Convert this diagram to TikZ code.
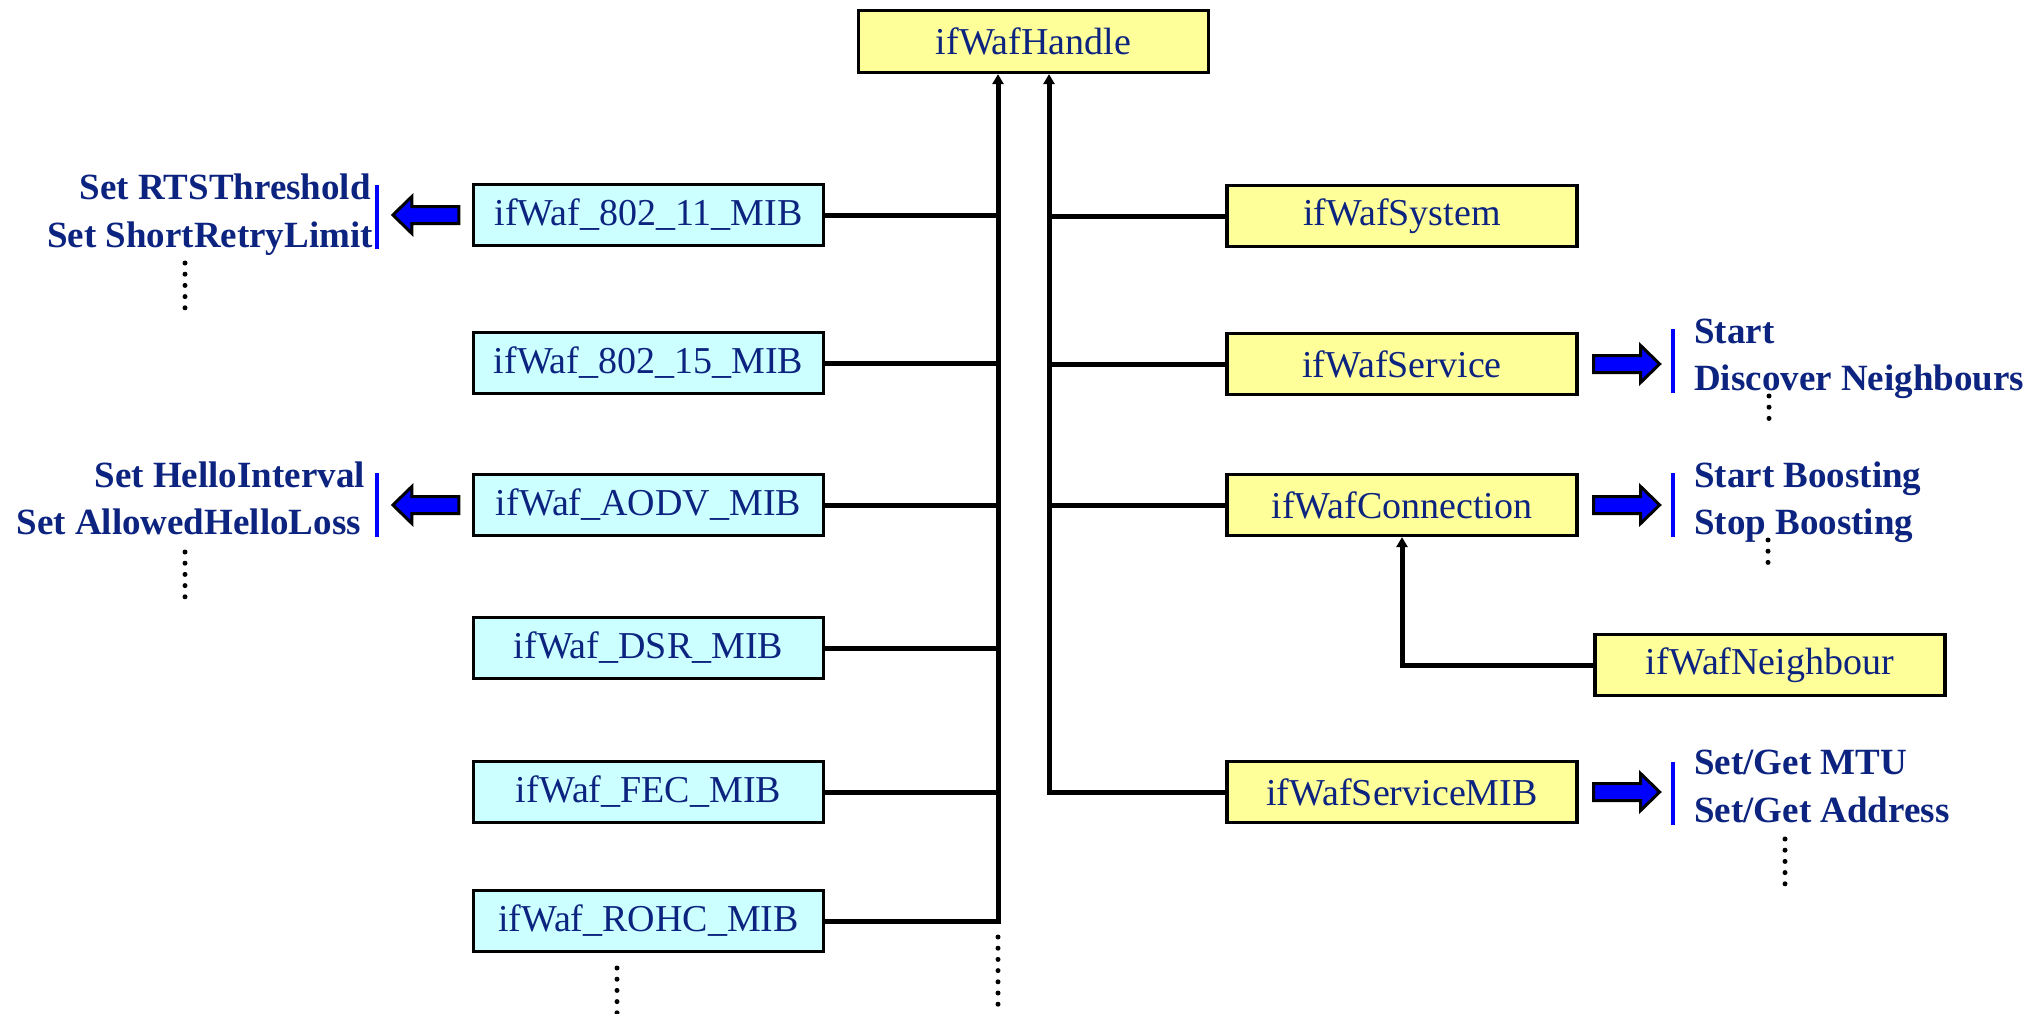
\documentclass[tikz,border=0pt]{standalone}
\usepackage{fontspec}
\setmainfont{Liberation Serif}
\usetikzlibrary{arrows.meta,calc}
\definecolor{navy}{RGB}{12,36,128}
\definecolor{cyanfill}{RGB}{204,255,255}
\definecolor{yellowfill}{RGB}{255,255,153}
\definecolor{arrowblue}{RGB}{0,0,255}

\begin{document}
\begin{tikzpicture}[x=1pt,y=-1pt,
  box/.style={draw=black,line width=3.2pt,minimum width=350pt,minimum height=61pt,
    inner sep=0pt,text=navy,font=\fontsize{38}{45}\selectfont},
  mib/.style={box,fill=cyanfill},
  obj/.style={box,fill=yellowfill},
  link/.style={line width=5pt},
  uplink/.style={link,-{Triangle[length=10pt,width=11pt]}},
  lbl/.style={inner sep=0pt,text=navy,font=\fontsize{37}{47}\selectfont\bfseries},
  bar/.style={draw=arrowblue,line width=3.6pt},
  dots/.style={line width=5pt,line cap=round,dash pattern=on 0pt off 11.2pt},
  pics/fatarrow/.style={code={
    \draw[line width=3pt,fill=arrowblue,line join=miter]
      (0,-8.5) -- (47,-8.5) -- (47,-18.5) -- (66,0) -- (47,18.5) -- (47,8.5) -- (0,8.5) -- cycle;}}
]
\useasboundingbox (0,0) rectangle (2034,1014);

% root object
\node[obj,minimum height=62pt] (handle) at (1033.5,41.5) {ifWafHandle};

% MIB objects (left column)
\node[mib] (m80211) at (648.5,215) {ifWaf\_802\_11\_MIB};
\node[mib] (m80215) at (648.5,363) {ifWaf\_802\_15\_MIB};
\node[mib] (maodv)  at (648.5,505) {ifWaf\_AODV\_MIB};
\node[mib] (mdsr)   at (648.5,648) {ifWaf\_DSR\_MIB};
\node[mib] (mfec)   at (648.5,792) {ifWaf\_FEC\_MIB};
\node[mib] (mrohc)  at (648.5,921) {ifWaf\_ROHC\_MIB};

% service objects (right column)
\node[obj] (osys)  at (1402,216) {ifWafSystem};
\node[obj] (osvc)  at (1402,364) {ifWafService};
\node[obj] (oconn) at (1402,505) {ifWafConnection};
\node[obj] (osmib) at (1402,792) {ifWafServiceMIB};
\node[obj] (onbr)  at (1770,665) {ifWafNeighbour};

% trunks
\coordinate (tL) at (998,921);
\coordinate (tR) at (1049,792);
\draw[uplink] (mrohc.east) -- (tL) -- (tL |- handle.south);
\foreach \n in {m80211,m80215,maodv,mdsr,mfec}
  \draw[link] (\n.east) -- ($(\n.east -| tL)+(2.5,0)$);
\draw[uplink] (osmib.west) -- (tR) -- (tR |- handle.south);
\foreach \n in {osys,osvc,oconn}
  \draw[link] (\n.west) -- (\n.west -| tR);
\draw[uplink] (onbr.west) -- (onbr.west -| oconn.south) -- (oconn.south);

% continuation marks
\draw[dots] (998,937) -- (998,1013);
\draw[dots] (617,968) -- (617,1013);

% operations of ifWaf_802_11_MIB
\pic[xscale=-1] at ($(m80211.west)+(-13,0)$) {fatarrow};
\draw[bar] (377,185) -- (377,249);
\node[lbl,anchor=base east] (l11a) at (371,199) {Set RTSThreshold};
\node[lbl,anchor=base east] (l11b) at (373,247) {Set ShortRetryLimit};
\draw[dots] (185,263) -- (185,309);

% operations of ifWaf_AODV_MIB
\pic[xscale=-1] at ($(maodv.west)+(-13,0)$) {fatarrow};
\draw[bar] (377,473) -- (377,537);
\node[lbl,anchor=base east] (laoa) at (365,487) {Set HelloInterval};
\node[lbl,anchor=base east] (laob) at (361,534) {Set AllowedHelloLoss};
\draw[dots] (185,552) -- (185,597);

% operations of ifWafService
\pic at ($(osvc.east)+(15,0)$) {fatarrow};
\draw[bar] (1673,329) -- (1673,393);
\node[lbl,anchor=base west] (lsva) at (1694,343) {Start};
\node[lbl,anchor=base west] (lsvb) at (1694,390) {Discover Neighbours};
\draw[dots] (1769,396) -- (1769,420);

% operations of ifWafConnection
\pic at ($(oconn.east)+(15,0)$) {fatarrow};
\draw[bar] (1673,473) -- (1673,537);
\node[lbl,anchor=base west] (lcna) at (1694,487) {Start Boosting};
\node[lbl,anchor=base west] (lcnb) at (1694,534) {Stop Boosting};
\draw[dots] (1768,540) -- (1768,564);

% operations of ifWafServiceMIB
\pic at ($(osmib.east)+(15,0)$) {fatarrow};
\draw[bar] (1673,762) -- (1673,825);
\node[lbl,anchor=base west] (lsma) at (1694,774) {Set/Get MTU};
\node[lbl,anchor=base west] (lsmb) at (1694,822) {Set/Get Address};
\draw[dots] (1785,839) -- (1785,885);
\end{tikzpicture}
\end{document}
